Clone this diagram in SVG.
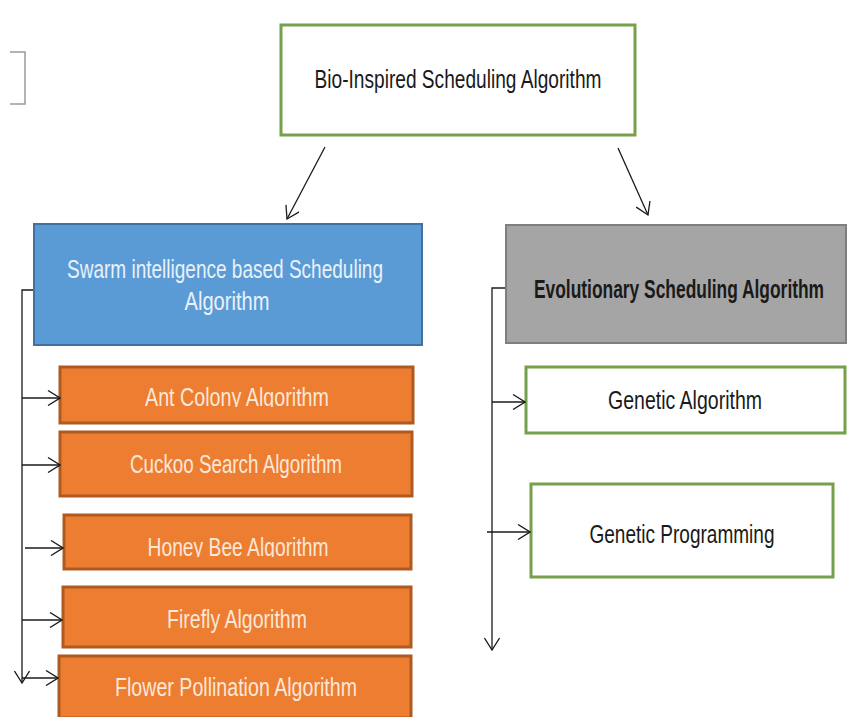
<svg xmlns="http://www.w3.org/2000/svg" width="847" height="717" viewBox="0 0 847 717">
<style>
text{font-family:"Liberation Sans",Arial,sans-serif;font-size:25px;text-anchor:middle}
.green{fill:#ffffff;stroke:#77a04a;stroke-width:3}
.orange{fill:#ed7d31;stroke:#ae5a21;stroke-width:3}
.otext{fill:#fbe7d8}
.conn{fill:none;stroke:#1a1a1a;stroke-width:1.3}
</style>
<defs>
<marker id="arr" viewBox="0 0 14 16" refX="13" refY="8" markerWidth="14" markerHeight="16" markerUnits="userSpaceOnUse" orient="auto">
<path d="M1,0.5 L13,8 L1,15.5" fill="none" stroke="#1a1a1a" stroke-width="1.3"/>
</marker>
<clipPath id="clipAnt"><rect x="60" y="367" width="353" height="40"/></clipPath>
<clipPath id="clipHoney"><rect x="64" y="515" width="347" height="42"/></clipPath>
</defs>
<path d="M10,52 H25 V104 H10" fill="none" stroke="#9a9a9a" stroke-width="1.5"/>
<g id="root">
<rect class="green" x="281" y="25" width="354" height="110"/>
<text x="458" y="88" textLength="287" lengthAdjust="spacingAndGlyphs" fill="#1a1a1a">Bio-Inspired Scheduling Algorithm</text>
</g>
<g id="swarm">
<rect x="34" y="224" width="388" height="121" fill="#5b9bd5" stroke="#41719c" stroke-width="2"/>
<text x="225" y="278" textLength="316" lengthAdjust="spacingAndGlyphs" fill="#e8f1fa">Swarm intelligence  based Scheduling</text>
<text x="227" y="310" textLength="85" lengthAdjust="spacingAndGlyphs" fill="#e8f1fa">Algorithm</text>
</g>
<g id="evolutionary">
<rect x="506" y="225" width="340" height="118" fill="#a5a5a5" stroke="#7f7f7f" stroke-width="2"/>
<text transform="translate(679,298) scale(0.72,1)" x="0" y="0" textLength="403" lengthAdjust="spacingAndGlyphs" font-weight="bold" fill="#1a1a1a">Evolutionary Scheduling Algorithm</text>
</g>
<g id="ant">
<rect class="orange" x="60" y="367" width="353" height="56"/>
<text class="otext" x="237" y="406" textLength="184" lengthAdjust="spacingAndGlyphs" clip-path="url(#clipAnt)">Ant Colony Algorithm</text>
</g>
<g id="cuckoo">
<rect class="orange" x="60" y="432" width="352" height="64"/>
<text class="otext" x="236" y="473" textLength="212" lengthAdjust="spacingAndGlyphs">Cuckoo Search Algorithm</text>
</g>
<g id="honeybee">
<rect class="orange" x="64" y="515" width="347" height="54"/>
<text class="otext" x="238" y="556" textLength="181" lengthAdjust="spacingAndGlyphs" clip-path="url(#clipHoney)">Honey Bee Algorithm</text>
</g>
<g id="firefly">
<rect class="orange" x="63" y="587" width="348" height="60"/>
<text class="otext" x="237" y="628" textLength="140" lengthAdjust="spacingAndGlyphs">Firefly Algorithm</text>
</g>
<g id="flower">
<rect class="orange" x="59" y="656" width="352" height="62"/>
<text class="otext" x="236" y="696" textLength="242" lengthAdjust="spacingAndGlyphs">Flower Pollination Algorithm</text>
</g>
<g id="genetic">
<rect class="green" x="526" y="367" width="319" height="66"/>
<text x="685" y="409" textLength="154" lengthAdjust="spacingAndGlyphs" fill="#1a1a1a">Genetic Algorithm</text>
</g>
<g id="gp">
<rect class="green" x="531" y="484" width="302" height="93"/>
<text x="682" y="543" textLength="185" lengthAdjust="spacingAndGlyphs" fill="#1a1a1a">Genetic Programming</text>
</g>
<g id="connectors">
<line class="conn" x1="325" y1="147" x2="287" y2="219" marker-end="url(#arr)"/>
<line class="conn" x1="618" y1="148" x2="648" y2="215" marker-end="url(#arr)"/>
<path class="conn" d="M33,290 H22 V683" marker-end="url(#arr)"/>
<line class="conn" x1="22" y1="398" x2="60" y2="398" marker-end="url(#arr)"/>
<line class="conn" x1="22" y1="465" x2="60" y2="465" marker-end="url(#arr)"/>
<line class="conn" x1="25" y1="548" x2="63" y2="548" marker-end="url(#arr)"/>
<line class="conn" x1="22" y1="620" x2="62" y2="620" marker-end="url(#arr)"/>
<line class="conn" x1="22" y1="678" x2="58" y2="678" marker-end="url(#arr)"/>
<path class="conn" d="M505,288 H492 V650" marker-end="url(#arr)"/>
<line class="conn" x1="492" y1="402" x2="525" y2="402" marker-end="url(#arr)"/>
<line class="conn" x1="487" y1="532" x2="530" y2="532" marker-end="url(#arr)"/>
</g>
</svg>
